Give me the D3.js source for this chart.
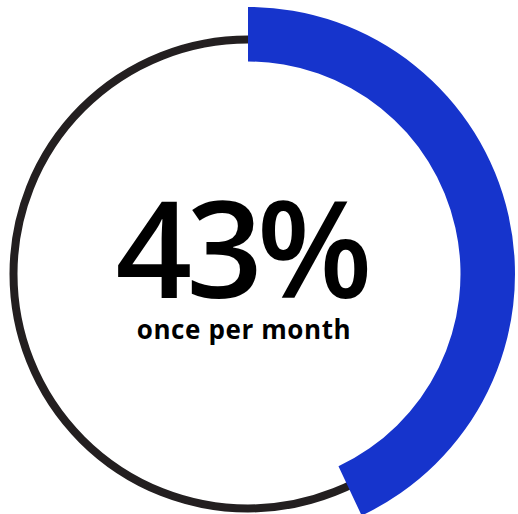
<!DOCTYPE html>
<html>
<head>
<meta charset="utf-8">
<script src="https://cdn.jsdelivr.net/npm/d3@7"></script>
<style>
  html, body { margin: 0; padding: 0; background: #fff; }
  svg { display: block; }
</style>
</head>
<body>
<div class="draw-donut"></div>
<script>
const categories = ["once per month", "rest"];
const values = [43, 57];
const headline = "43%";
const caption = "once per month";

const draw = () => {
  const width = 518;
  const height = 514;
  const cx = 248;
  const cy = 274;

  const svg = d3
    .select(".draw-donut")
    .append("svg")
    .attr("width", width)
    .attr("height", height);

  const g = svg.append("g").attr("transform", "translate(" + cx + "," + cy + ")");

  // thin base ring
  g.append("circle")
    .attr("r", 234.5)
    .attr("fill", "none")
    .attr("stroke", "#231f20")
    .attr("stroke-width", 8);

  const pie = d3.pie().value((d) => d).sort(null);
  const arc = d3.arc().innerRadius(212.5).outerRadius(267);

  g.selectAll("path")
    .data(pie(values))
    .enter()
    .filter((d, i) => i === 0)
    .append("path")
    .attr("d", arc)
    .attr("fill", "#1634cc");

  g.append("text")
    .text(headline)
    .attr("x", -7)
    .attr("y", 24)
    .attr("text-anchor", "middle")
    .style("font-family", "'Open Sans', 'Noto Sans', sans-serif")
    .style("font-weight", 600)
    .style("font-size", "134px")
    .style("letter-spacing", "-6px")
    .style("fill", "#000");

  g.append("text")
    .text(caption)
    .attr("x", -4)
    .attr("y", 65)
    .attr("text-anchor", "middle")
    .style("font-family", "'Open Sans', 'Noto Sans', sans-serif")
    .style("font-weight", "bold")
    .style("font-size", "26px")
    .style("letter-spacing", "0.6px")
    .style("fill", "#000");
};

draw();
</script>
</body>
</html>
